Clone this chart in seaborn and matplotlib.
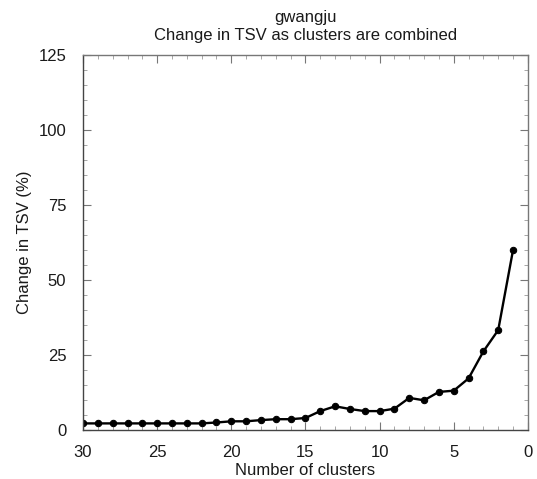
import matplotlib
matplotlib.use("Agg")
import matplotlib.pyplot as plt
import seaborn as sns
import pandas as pd
from matplotlib.ticker import MultipleLocator

clusters = list(range(30, 0, -1))
tsv_change = [2.2, 2.2, 2.2, 2.2, 2.2, 2.2, 2.2, 2.2, 2.2, 2.5,
              2.9, 2.9, 3.3, 3.6, 3.6, 4.0, 6.3, 7.9, 7.0, 6.3,
              6.3, 7.1, 10.7, 9.9, 12.7, 13.1, 17.2, 26.2, 33.3, 60.0]
x_ticks = [30, 25, 20, 15, 10, 5, 0]
y_ticks = [0, 25, 50, 75, 100, 125]

df = pd.DataFrame({"clusters": clusters, "tsv": tsv_change})

sns.set_style("ticks")
plt.rcParams['font.family'] = ['Liberation Sans', 'DejaVu Sans']
plt.rcParams['text.color'] = '#1a1a1a'
plt.rcParams['axes.labelcolor'] = '#1a1a1a'
plt.rcParams['xtick.labelcolor'] = '#1a1a1a'
plt.rcParams['ytick.labelcolor'] = '#1a1a1a'

fig = plt.figure(figsize=(5.37, 4.79), dpi=100)
ax = fig.add_axes([0.1546, 0.1023, 0.8284, 0.7829])

sns.lineplot(data=df, x="clusters", y="tsv", ax=ax, color="black",
             linewidth=1.7, marker="o", markersize=4.6,
             markeredgecolor="black", markerfacecolor="black")

ax.set_xlim(30, 0)
ax.set_ylim(0, 125)
ax.set_xticks(x_ticks)
ax.set_yticks(y_ticks)
ax.xaxis.set_minor_locator(MultipleLocator(1))
ax.yaxis.set_minor_locator(MultipleLocator(5))
ax.tick_params(axis="both", which="major", direction="in", length=6,
               color="#777777", labelsize=12, top=True, right=True)
ax.tick_params(axis="y", which="major", pad=12)
ax.tick_params(axis="x", which="major", pad=11)
ax.tick_params(axis="both", which="minor", direction="in", length=3,
               color="#999999", top=True, right=True)
for s in ax.spines.values():
    s.set_visible(True)
    s.set_color("#777777")
    s.set_linewidth(1.0)
ax.spines["bottom"].set_color("#444444")
ax.spines["left"].set_color("#444444")

ax.set_xlabel("Number of clusters", fontsize=12, labelpad=2)
ax.set_ylabel("Change in TSV (%)", fontsize=12, labelpad=5)
ax.set_title("gwangju\nChange in TSV as clusters are combined", fontsize=12,
             pad=11, linespacing=1.2)

fig.savefig("out.png", dpi=100)
